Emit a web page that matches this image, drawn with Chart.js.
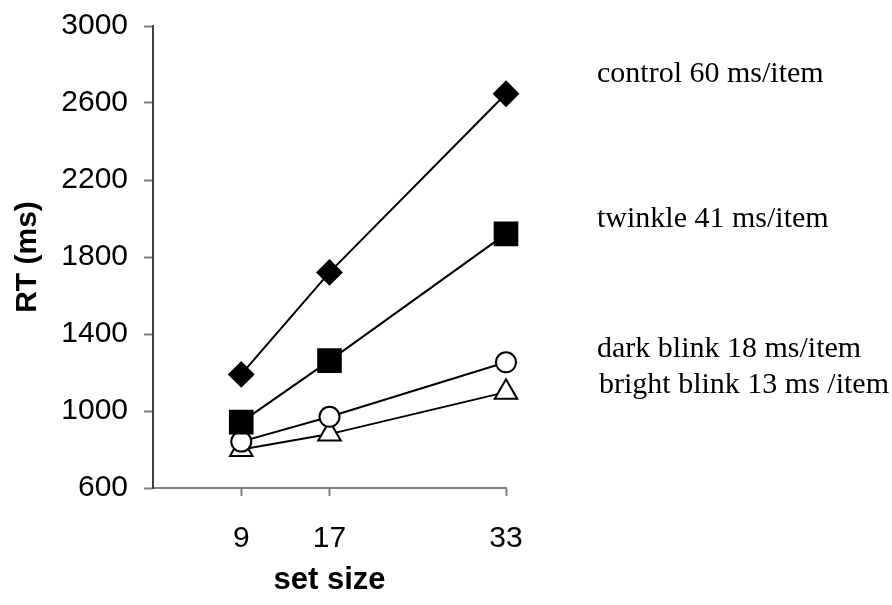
<!DOCTYPE html>
<html>
<head>
<meta charset="utf-8">
<script src="https://cdn.jsdelivr.net/npm/chart.js@4/dist/chart.umd.min.js"></script>
<style>
  html, body { margin: 0; padding: 0; background: #fff; }
  #wrap { width: 892px; height: 605px; }
</style>
</head>
<body>
<div id="wrap"><canvas id="rt"></canvas></div>
<script>
// set sizes on the x axis
const setSizes = [9, 17, 33];
const shownTicks = [9, 17, 33];

// mean RT (ms) per condition
const controlRT = [1190, 1720, 2648];
const twinkleRT = [942, 1262, 1920];
const darkBlinkRT = [841, 970, 1253];
const brightBlinkRT = [800, 880, 1098];

const seriesNotes = [
    'control 60 ms/item',
    'twinkle 41 ms/item',
    'dark blink 18 ms/item',
    'bright blink 13 ms /item',
];

const SANS = "'Liberation Sans', Arial, sans-serif";
const SERIF = "'Liberation Serif', 'Times New Roman', serif";

function pts(values) {
    return setSizes.map((x, i) => ({ x, y: values[i] }));
}

function series(label, values, style, radius, filled) {
    return {
        label,
        data: pts(values),
        showLine: true,
        borderColor: '#000',
        borderWidth: 2,
        pointStyle: style,
        pointRadius: radius,
        pointBorderWidth: 2,
        pointBorderColor: '#000',
        pointBackgroundColor: filled ? '#000' : '#fff',
        clip: false,
    };
}

// slope notes to the right of the plot
const notesPlugin = {
    id: 'notes',
    afterDraw(chart) {
        const { ctx, chartArea } = chart;
        const x = chartArea.right + 91;
        const baselines = [82, 227, 357, 393];
        const shift = [0, 0, 0, 2];
        ctx.save();
        ctx.fillStyle = '#000';
        ctx.font = '30px ' + SERIF;
        ctx.textBaseline = 'alphabetic';
        seriesNotes.forEach((t, i) => ctx.fillText(t, x + shift[i], baselines[i]));
        ctx.restore();
    },
};

new Chart(document.getElementById('rt'), {
    type: 'scatter',
    data: {
        datasets: [
            series('control', controlRT, 'rectRot', 12, true),
            series('twinkle', twinkleRT, 'rect', 16, true),
            series('dark blink', darkBlinkRT, 'circle', 10, false),
            series('bright blink', brightBlinkRT, 'triangle', 13, false),
        ],
    },
    options: {
        responsive: true,
        maintainAspectRatio: false,
        animation: false,
        layout: { padding: { top: 26, right: 386, left: 0, bottom: 0 } },
        plugins: {
            legend: { display: false },
            tooltip: { enabled: false },
        },
        scales: {
            x: {
                type: 'linear',
                min: 1,
                max: 33,
                afterFit: (s) => { s.height = 117; },
                border: { color: '#808080', width: 2 },
                grid: {
                    drawOnChartArea: false,
                    tickLength: 8,
                    tickWidth: 2,
                    tickColor: (c) => shownTicks.includes(c.tick.value) ? '#808080' : 'rgba(0,0,0,0)',
                },
                ticks: {
                    stepSize: 8,
                    padding: 25,
                    color: '#000',
                    font: { family: SANS, size: 30 },
                    callback: (v) => shownTicks.includes(v) ? String(v) : '',
                },
                title: {
                    display: true,
                    text: 'set size',
                    color: '#000',
                    font: { family: SANS, size: 31, weight: 'bold' },
                    padding: { top: 0, bottom: 6 },
                },
            },
            y: {
                min: 600,
                max: 3000,
                afterFit: (s) => {
                    s.width = 153;
                    s.paddingTop = 0;
                    s.paddingBottom = 0;
                },
                border: { color: '#404040', width: 2 },
                grid: {
                    drawOnChartArea: false,
                    tickLength: 9,
                    tickWidth: 2,
                    tickColor: '#808080',
                },
                ticks: {
                    stepSize: 400,
                    padding: 16,
                    color: '#000',
                    font: { family: SANS, size: 30 },
                    callback: (v) => String(v),
                },
                title: {
                    display: true,
                    text: 'RT (ms)',
                    color: '#000',
                    font: { family: SANS, size: 30, weight: 'bold' },
                    padding: { top: 10, bottom: 0 },
                },
            },
        },
    },
    plugins: [notesPlugin],
});
</script>
</body>
</html>
